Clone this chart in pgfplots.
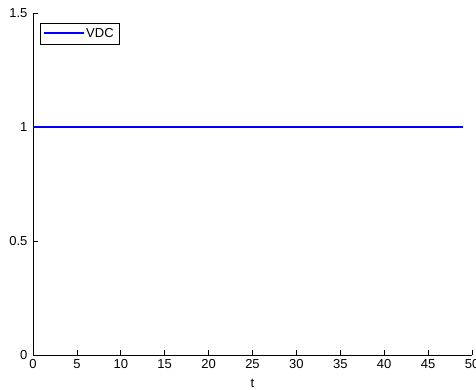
\documentclass[border=0pt]{standalone}
\usepackage{pgfplots}
\pgfplotsset{compat=1.18}
\usepackage{fontspec}
\setmainfont{Liberation Sans}
\begin{document}
\begin{tikzpicture}[x=1pt,y=1pt]
\begin{axis}[
  at={(0pt,0pt)}, anchor=south west,
  scale only axis,
  width=439pt, height=342pt,
  xmin=0, xmax=50, ymin=0, ymax=1.5,
  axis x line*=bottom, axis y line*=left,
  axis line style={black, line width=0.8pt, -},
  xtick={0,5,...,50},
  ytick={0,0.5,1,1.5},
  yticklabels={0,0.5,1,1.5},
  tick align=inside,
  major tick length=5pt,
  tick style={black, line width=0.8pt},
  /pgf/number format/assume math mode=true,
  tick label style={font=\fontsize{13}{15}\selectfont},
  xticklabel style={yshift=-1pt},
  yticklabel style={xshift=-2pt},
  xlabel={t},
  xlabel style={font=\fontsize{13}{15}\selectfont, yshift=-3pt},
  legend style={at={(0,1)}, anchor=north west, xshift=7pt, yshift=-10pt,
    font=\fontsize{13}{15}\selectfont,
    inner xsep=4pt, inner ysep=3pt},
  legend cell align=left,
  legend image code/.code={\node[inner sep=0pt, anchor=west] at (3pt,0pt)
    {\textcolor{blue}{\rule[-0.6pt]{40pt}{1.2pt}}};},
]
\addplot[color=blue, line width=1.2pt] coordinates {(0,1) (49,1)};
\addlegendentry{VDC}
\end{axis}
\pgfresetboundingbox
\path[use as bounding box] (-33pt,-34pt) rectangle (443pt,355pt);
\end{tikzpicture}
\end{document}
